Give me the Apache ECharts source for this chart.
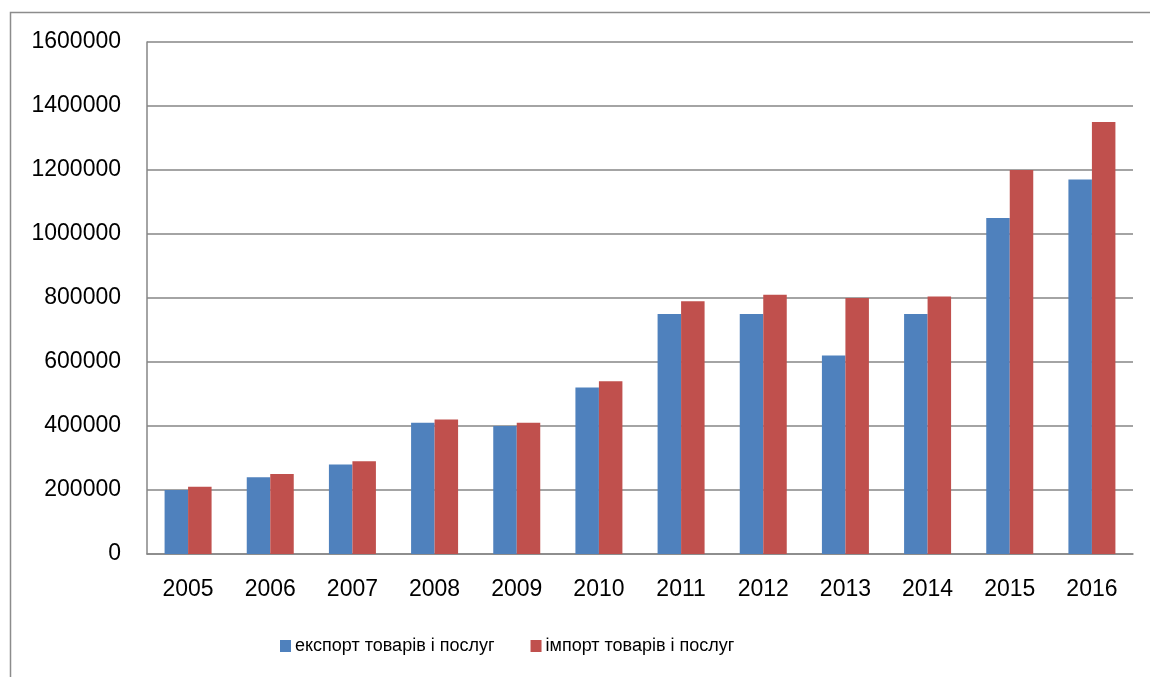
<!DOCTYPE html>
<html>
<head>
<meta charset="utf-8">
<script src="https://cdn.jsdelivr.net/npm/echarts@6/dist/echarts.min.js"></script>
<style>
html,body{margin:0;padding:0;background:#fff;}
#c{width:1150px;height:677px;}
</style>
</head>
<body>
<div id="c"></div>
<script>
const categories = ['2005','2006','2007','2008','2009','2010','2011','2012','2013','2014','2015','2016'];
const exportValues = [200000, 240000, 280000, 410000, 400000, 520000, 750000, 750000, 620000, 750000, 1050000, 1170000];
const importValues = [210000, 250000, 290000, 420000, 410000, 540000, 790000, 810000, 800000, 805000, 1200000, 1350000];
const seriesNames = ['експорт товарів і послуг', 'імпорт товарів і послуг'];
const yTicks = { min: 0, max: 1600000, interval: 200000 };

const chart = echarts.init(document.getElementById('c'), null, {renderer: 'canvas'});
const labelFont = { fontFamily: 'Liberation Sans', fontSize: 23, color: '#000' };
chart.setOption({
  animation: false,
  backgroundColor: '#fff',
  graphic: [{
    type: 'rect',
    shape: { x: 10.5, y: 12.5, width: 1200, height: 700 },
    style: { fill: 'none', stroke: '#8c8c8c', lineWidth: 1.5 },
    silent: true
  }],
  grid: { left: 147, right: 17, top: 42, bottom: 123, containLabel: false },
  legend: {
    left: 275, top: 632,
    itemWidth: 11, itemHeight: 12, itemGap: 36,
    icon: 'rect',
    textStyle: { fontFamily: 'Liberation Sans', fontSize: 18, color: '#000', padding: [0,0,0,-1] },
    data: seriesNames
  },
  xAxis: {
    type: 'category',
    data: categories,
    axisLine: { lineStyle: { color: '#868686', width: 1.5 } },
    axisTick: { show: false },
    axisLabel: Object.assign({ margin: 24 }, labelFont)
  },
  yAxis: {
    type: 'value',
    min: yTicks.min, max: yTicks.max, interval: yTicks.interval,
    axisLine: { show: true, lineStyle: { color: '#868686', width: 1.5 } },
    axisTick: { show: false },
    splitLine: { lineStyle: { color: '#868686', width: 1.5 } },
    axisLabel: Object.assign({ margin: 26, formatter: v => String(v) }, labelFont)
  },
  series: [
    { name: seriesNames[0], type: 'bar', data: exportValues, barWidth: 23.5, barGap: '0%',
      itemStyle: { color: '#4F81BD' } },
    { name: seriesNames[1], type: 'bar', data: importValues, barWidth: 23.5, barGap: '0%',
      itemStyle: { color: '#C0504D' } }
  ]
});
</script>
</body>
</html>
